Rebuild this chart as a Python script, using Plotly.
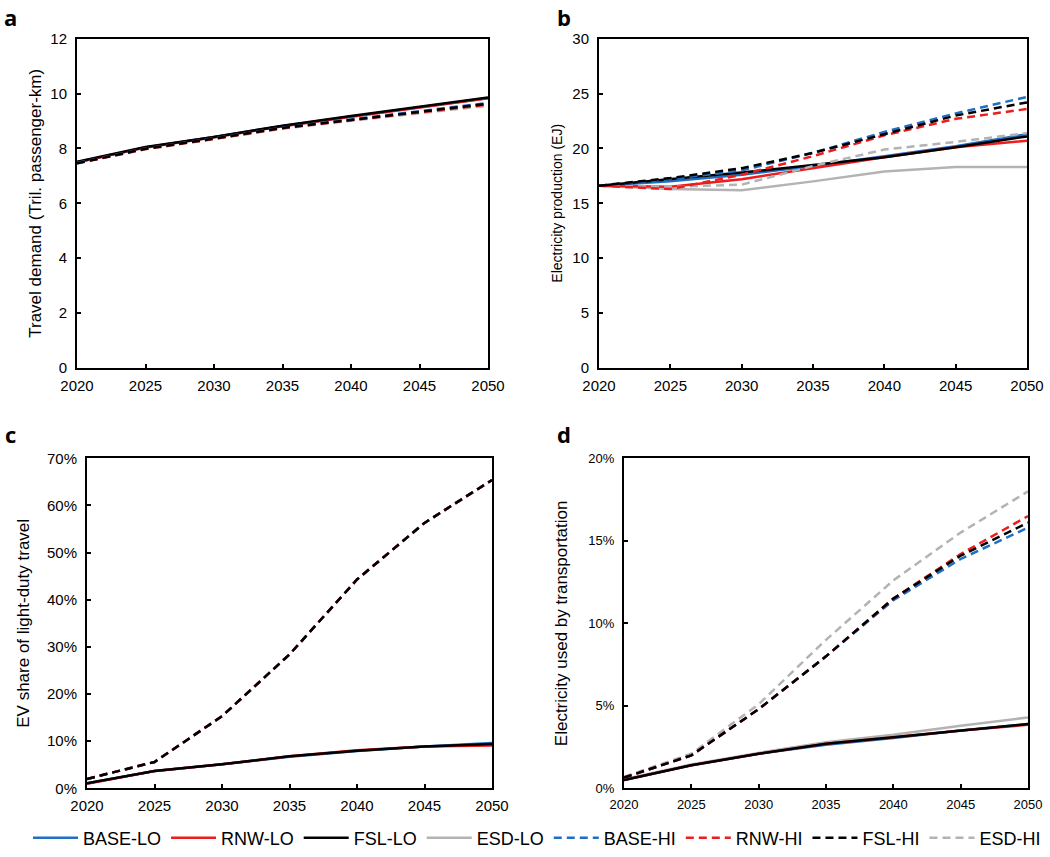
import plotly.graph_objects as go

W, H = 1050, 857

years = [2020, 2025, 2030, 2035, 2040, 2045, 2050]

scenarios = ["BASE-LO", "RNW-LO", "FSL-LO", "ESD-LO", "BASE-HI", "RNW-HI", "FSL-HI", "ESD-HI"]

# Panel a: Travel demand (Tril. passenger-km)
travel = {
    "BASE-LO": [7.50, 8.04, 8.42, 8.82, 9.17, 9.51, 9.84],
    "RNW-LO":  [7.50, 8.04, 8.41, 8.81, 9.16, 9.50, 9.83],
    "FSL-LO":  [7.51, 8.05, 8.42, 8.83, 9.18, 9.52, 9.86],
    "ESD-LO":  [7.50, 8.03, 8.41, 8.81, 9.16, 9.50, 9.83],
    "BASE-HI": [7.47, 8.00, 8.37, 8.76, 9.06, 9.36, 9.66],
    "RNW-HI":  [7.46, 7.98, 8.35, 8.74, 9.03, 9.32, 9.60],
    "FSL-HI":  [7.46, 7.99, 8.36, 8.75, 9.04, 9.34, 9.63],
    "ESD-HI":  [7.45, 7.97, 8.34, 8.72, 9.01, 9.29, 9.56],
}

# Panel b: Electricity production (EJ)
elec = {
    "BASE-LO": [16.6, 17.0, 17.6, 18.4, 19.3, 20.2, 21.3],
    "RNW-LO":  [16.6, 16.5, 17.2, 18.2, 19.2, 20.1, 20.7],
    "FSL-LO":  [16.6, 17.2, 17.8, 18.5, 19.2, 20.1, 21.1],
    "ESD-LO":  [16.6, 16.3, 16.2, 17.0, 17.9, 18.3, 18.3],
    "BASE-HI": [16.6, 17.2, 18.0, 19.6, 21.5, 23.2, 24.7],
    "RNW-HI":  [16.6, 16.3, 17.6, 19.3, 21.2, 22.7, 23.6],
    "FSL-HI":  [16.6, 17.3, 18.2, 19.6, 21.3, 23.0, 24.2],
    "ESD-HI":  [16.6, 16.5, 16.7, 18.4, 19.9, 20.6, 21.4],
}

# Panel c: EV share of light-duty travel (%)
ev_share = {
    "BASE-LO": [1.1, 3.7, 5.1, 6.7, 7.9, 8.9, 9.6],
    "RNW-LO":  [1.0, 3.7, 5.1, 6.8, 8.1, 8.9, 9.1],
    "FSL-LO":  [1.1, 3.7, 5.1, 6.8, 8.0, 8.9, 9.4],
    "ESD-LO":  [1.1, 3.7, 5.1, 6.8, 8.0, 8.9, 9.4],
    "BASE-HI": [2.0, 5.6, 15.3, 28.4, 44.3, 56.3, 65.4],
    "RNW-HI":  [2.0, 5.6, 15.3, 28.4, 44.3, 56.3, 65.4],
    "FSL-HI":  [2.0, 5.6, 15.3, 28.4, 44.3, 56.3, 65.4],
    "ESD-HI":  [2.0, 5.6, 15.3, 28.4, 44.3, 56.3, 65.4],
}

# Panel d: Electricity used by transportation (%)
elec_transport = {
    "BASE-LO": [0.5, 1.4, 2.1, 2.65, 3.05, 3.5, 3.9],
    "RNW-LO":  [0.5, 1.4, 2.1, 2.7, 3.1, 3.5, 3.85],
    "FSL-LO":  [0.5, 1.4, 2.1, 2.7, 3.1, 3.5, 3.9],
    "ESD-LO":  [0.55, 1.45, 2.15, 2.8, 3.25, 3.8, 4.3],
    "BASE-HI": [0.65, 2.0, 4.8, 8.0, 11.4, 13.9, 15.8],
    "RNW-HI":  [0.65, 2.0, 4.8, 8.0, 11.5, 14.2, 16.5],
    "FSL-HI":  [0.65, 2.0, 4.8, 8.0, 11.5, 14.1, 16.1],
    "ESD-HI":  [0.7, 2.1, 5.1, 9.0, 12.6, 15.5, 18.0],
}

colors = {"BASE": "#1f6fc5", "RNW": "#ee1c1c", "FSL": "#000000", "ESD": "#b3b3b3"}
draw_order = ["ESD-LO", "BASE-LO", "RNW-LO", "FSL-LO", "ESD-HI", "BASE-HI", "RNW-HI", "FSL-HI"]

FONT = "Arial, Liberation Sans, sans-serif"

fig = go.Figure()

panels = [
    ("a", travel, "x", "y"),
    ("b", elec, "x2", "y2"),
    ("c", ev_share, "x3", "y3"),
    ("d", elec_transport, "x4", "y4"),
]

for pi, (lab, data, xa, ya) in enumerate(panels):
    for name in draw_order:
        key = name.split("-")[0]
        hi = name.endswith("HI")
        fig.add_trace(go.Scatter(
            x=years, y=data[name], mode="lines", name=name,
            line=dict(color=colors[key], width=2.5, dash="8px,5px" if hi else "solid"),
            xaxis=xa, yaxis=ya,
            legendgroup=name, showlegend=(pi == 0),
            legendrank=scenarios.index(name) + 1,
        ))

def dx(a, b):
    return [a / W, b / W]

def dy(top, bottom):
    return [1 - bottom / H, 1 - top / H]

axis_common = dict(
    showline=True, linecolor="black", linewidth=2, mirror=True,
    ticks="inside", ticklen=4, tickwidth=1.5, tickcolor="black",
    showgrid=False, zeroline=False, automargin=False,
)

def xaxis(dom, size, anchor):
    return dict(axis_common, domain=dom, range=[2020, 2050], dtick=5, tick0=2020,
                anchor=anchor, ticklabelstandoff=3,
                tickfont=dict(family=FONT, size=size, color="black"))

def yaxis(dom, rng, dtick, title, tsize, size, anchor, standoff, suffix=""):
    return dict(axis_common, domain=dom, range=rng, dtick=dtick, anchor=anchor,
                ticksuffix=suffix, ticklabelstandoff=5,
                tickfont=dict(family=FONT, size=size, color="black"),
                title=dict(text=title, font=dict(family=FONT, size=tsize, color="black"),
                           standoff=standoff))

fig.update_layout(
    width=W, height=H,
    margin=dict(l=0, r=0, t=0, b=0),
    paper_bgcolor="white", plot_bgcolor="white",
    font=dict(family=FONT, color="black"),
    xaxis=xaxis(dx(77, 488), 15, "y"),
    yaxis=yaxis(dy(39, 370), [0, 12], 2, "Travel demand (Tril. passenger-km)", 17, 15, "x", 4),
    xaxis2=xaxis(dx(599, 1027), 15, "y2"),
    yaxis2=yaxis(dy(39, 370), [0, 30], 5, "Electricity production (EJ)", 14, 15, "x2", 6),
    xaxis3=xaxis(dx(87, 492), 15, "y3"),
    yaxis3=yaxis(dy(461, 793), [0, 70], 10, "EV share of light-duty travel", 17, 15, "x3", 13, "%"),
    xaxis4=xaxis(dx(624, 1028), 13, "y4"),
    yaxis4=yaxis(dy(461, 793), [0, 20], 5, "Electricity used by transportation", 17, 13, "x4", 16, "%"),
    legend=dict(orientation="h", x=28 / W, xanchor="left", y=1 - 843 / H, yanchor="middle",
                font=dict(family=FONT, size=18, color="black"), bgcolor="rgba(0,0,0,0)",
                traceorder="normal", itemwidth=45),
    showlegend=True,
)

letters = [("a", 2, 0), ("b", 555, 0), ("c", 3, 419), ("d", 555, 419)]
for t, x, y in letters:
    fig.add_annotation(text="<b>%s</b>" % t, x=x / W, y=1 - y / H, xref="paper", yref="paper",
                       xanchor="left", yanchor="top", showarrow=False,
                       font=dict(family="Open Sans, Liberation Sans, sans-serif", size=22, color="black"))

fig.write_html("out.html", config={"displayModeBar": False},
               post_script="document.body.style.margin='0px';document.body.style.overflow='hidden';")
